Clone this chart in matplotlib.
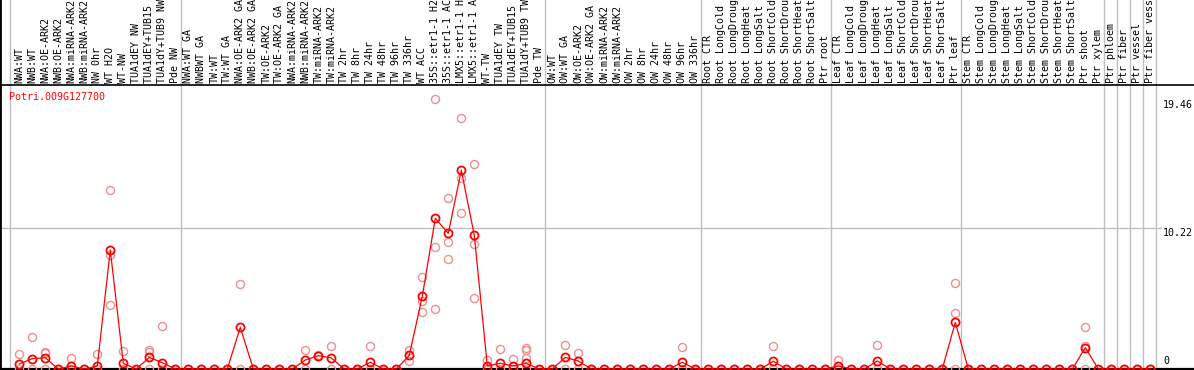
import numpy as np
import matplotlib
matplotlib.use("Agg")
import matplotlib.pyplot as plt

gene = "Potri.009G127700"

labels = [
    "NWA:WT", "NWB:WT", "NWA:OE-ARK2", "NWB:OE-ARK2", "NWA:miRNA-ARK2", "NWB:miRNA-ARK2",
    "NW 0hr", "WT H2O", "WT-NW", "TUA1dEY NW", "TUA1dEY+TUB15 NW", "TUA1dY+TUB9 NW", "Pde NW",
    "NWA:WT GA", "NWBWT GA", "TW:WT", "TW:WT GA", "NWA:OE-ARK2 GA", "NWB:OE-ARK2 GA",
    "TW:OE-ARK2", "TW:OE-ARK2 GA", "NWA:miRNA-ARK2", "NWB:miRNA-ARK2", "TW:miRNA-ARK2",
    "TW:miRNA-ARK2", "TW 2hr", "TW 8hr", "TW 24hr", "TW 48hr", "TW 96hr", "TW 336hr",
    "WT ACC", "35S::etr1-1 H2O", "35S::etr1-1 ACC", "LMX5::etr1-1 H2O", "LMX5::etr1-1 ACC",
    "WT-TW", "TUA1dEY TW", "TUA1dEY+TUB15 TW", "TUA1dY+TUB9 TW", "Pde TW",
    "OW:WT", "OW:WT GA", "OW:OE-ARK2", "OW:OE-ARK2 GA", "OW:miRNA-ARK2", "OW:miRNA-ARK2",
    "OW 2hr", "OW 8hr", "OW 24hr", "OW 48hr", "OW 96hr", "OW 336hr",
    "Root CTR", "Root LongCold", "Root LongDrought", "Root LongHeat", "Root LongSalt",
    "Root ShortCold", "Root ShortDrought", "Root ShortHeat", "Root ShortSalt", "Ptr root",
    "Leaf CTR", "Leaf LongCold", "Leaf LongDrought", "Leaf LongHeat", "Leaf LongSalt",
    "Leaf ShortCold", "Leaf ShortDrought", "Leaf ShortHeat", "Leaf ShortSalt", "Ptr leaf",
    "Stem CTR", "Stem LongCold", "Stem LongDrought", "Stem LongHeat", "Stem LongSalt",
    "Stem ShortCold", "Stem ShortDrought", "Stem ShortHeat", "Stem ShortSalt",
    "Ptr shoot", "Ptr xylem", "Ptr phloem", "Ptr fiber", "Ptr vessel", "Ptr fiber vessel",
]

means = [
    0.36, 0.75, 0.82, 0, 0.22, 0, 0.22, 8.62, 0.41, 0, 0.84, 0.46, 0,
    0, 0, 0, 0, 3.02, 0, 0, 0, 0, 0.65, 0.97, 0.80, 0, 0, 0.49, 0, 0, 0.99,
    5.27, 10.92, 9.83, 14.40, 9.69, 0.22, 0.41, 0.22, 0.41, 0,
    0, 0.84, 0.58, 0, 0, 0, 0, 0, 0, 0, 0.49, 0,
    0, 0, 0, 0, 0, 0.56, 0, 0, 0, 0,
    0.22, 0, 0, 0.58, 0, 0, 0, 0, 0, 3.38,
    0, 0, 0, 0, 0, 0, 0, 0, 0, 1.55, 0, 0, 0, 0, 0,
]

reps = [
    [1.06, 0], [2.32, 0], [1.20, 1.15, 0], [0], [0.77, 0], [0], [1.06, 0],
    [12.97, 8.26, 4.64], [1.30, 0], [0], [1.37, 1.20, 0], [3.12, 0], [0],
    [0], [0], [0], [0], [6.14, 0], [0], [0], [0], [0], [1.38, 0], [1.00, 0.95],
    [1.67, 0], [0], [0], [1.67, 0], [0], [0], [1.38, 0.60],
    [6.64, 4.95, 4.11], [19.60, 8.86, 4.32], [12.37, 9.22, 7.95],
    [18.17, 13.82, 11.28], [14.86, 9.06, 5.12], [0.65, 0], [1.45, 0], [0.70, 0],
    [1.50, 1.40, 0.77, 0], [0],
    [0], [1.71, 0], [1.13, 0], [0], [0], [0], [0], [0], [0], [0], [1.57, 0], [0],
    [0], [0], [0], [0], [0], [1.69, 0], [0], [0], [0], [0],
    [0.65, 0], [0], [0], [1.71, 0], [0], [0], [0], [0], [0], [6.21, 4.03, 0],
    [0], [0], [0], [0], [0], [0], [0], [0], [0], [3.02, 1.67, 0], [0], [0], [0], [0], [0],
]

group_ends = [12, 40, 52, 62, 72, 83, 84, 85, 86, 87]
y_ticks = [0, 10.22, 19.46]

W, H = 1194, 370
top_px = 85          # header height
zero_px = 369        # pixel row of value 0
scale = 13.8         # pixels per unit
x0_px, step = 19.3, 13.0

fig = plt.figure(figsize=(W / 100, H / 100), dpi=100)
xlim = (-x0_px / step, (W - x0_px) / step)

ax = fig.add_axes([0, 0, 1, (H - top_px) / H])
ax.set_xlim(*xlim)
ax.set_ylim(-(H - zero_px) / scale, (zero_px - top_px) / scale)

hdr = fig.add_axes([0, (H - top_px) / H, 1, top_px / H])
hdr.set_xlim(*xlim)
hdr.set_ylim(0, top_px)

for a in (ax, hdr):
    a.set_xticks([])
    a.set_yticks([])
    for s in ("top", "right", "bottom"):
        a.spines[s].set_visible(False)
    a.spines["left"].set_color("black")
    a.spines["left"].set_linewidth(2)
    a.patch.set_alpha(0)
    seps = [-0.7] + [e + 0.4 for e in group_ends]
    for sx in seps:
        a.axvline(sx, color="#c0c0c0", lw=1, zorder=0)

hdr.spines["bottom"].set_visible(True)
hdr.spines["bottom"].set_color("black")
hdr.spines["bottom"].set_linewidth(1.2)

mono = "DejaVu Sans Mono"
for i, lab in enumerate(labels):
    hdr.text(i, 2, lab, rotation=90, ha="center", va="bottom",
             fontsize=7.2, family=mono, color="black")

# grid line and y labels
ax.axhline(y_ticks[1], xmin=0, xmax=1161 / W, color="#c0c0c0", lw=1, zorder=0)
ax.axhline(0, color="black", lw=1.6, zorder=1)
tx = 1163 / W
ax.text(tx, y_ticks[2], f"{y_ticks[2]:.2f}", transform=ax.get_yaxis_transform(),
        ha="left", va="top", fontsize=7.2, family=mono)
ax.text(tx, y_ticks[1], f"{y_ticks[1]:.2f}", transform=ax.get_yaxis_transform(),
        ha="left", va="top", fontsize=7.2, family=mono)
ax.annotate("0", xy=(tx, 0), xycoords=ax.get_yaxis_transform(), xytext=(0, 3),
            textcoords="offset pixels", ha="left", va="bottom", fontsize=7.2, family=mono)

x = np.arange(len(labels))
rx = np.concatenate([[i] * len(r) for i, r in enumerate(reps)])
ry = np.concatenate(reps)
ax.plot(rx, ry, "o", ms=5.8, mfc="none", mec="#ee9090", mew=1.0, zorder=2, clip_on=False)
ax.plot(x, means, "-", color="red", lw=0.9, zorder=3)
ax.plot(x, means, "o", ms=5.8, mfc="none", mec="red", mew=1.3, zorder=4, clip_on=False)

fig.text(9.3 / W, 1 - 96.7 / H, gene, color="red", ha="left", va="center",
         fontsize=7.2, family=mono)

fig.savefig("out.png", dpi=100)
